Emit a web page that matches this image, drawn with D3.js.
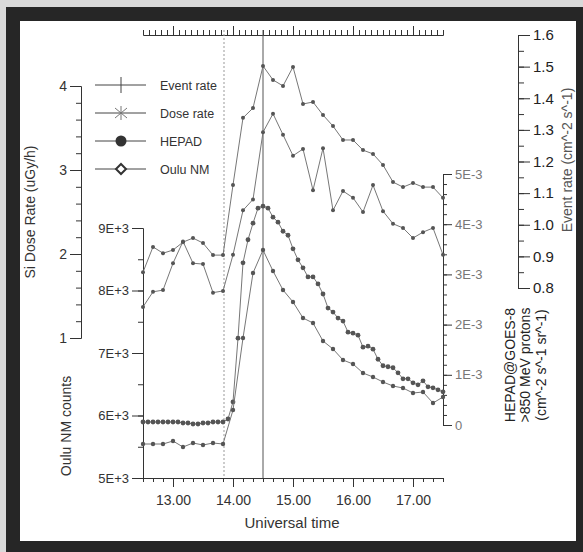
<!DOCTYPE html>
<html>
<head>
<meta charset="utf-8">
<script src="https://cdn.jsdelivr.net/npm/d3@7"></script>
<style>
  body { margin: 0; background: #fff; }
  svg text { font-family: "Liberation Sans", Arial, sans-serif; }
</style>
</head>
<body>
<div id="chart"></div>
<script>
// times (UT) of the 10 minute and 5 minute samples
var tenMinTimes = ["12:30","12:40","12:50","13:00","13:10","13:20","13:30","13:40","13:50","14:00",
    "14:10","14:20","14:30","14:40","14:50","15:00","15:10","15:20","15:30","15:40",
    "15:50","16:00","16:10","16:20","16:30","16:40","16:50","17:00","17:10","17:20","17:30"]
var fiveMinTimes = ["12:30","12:35","12:40","12:45","12:50","12:55","13:00","13:05","13:10","13:15",
    "13:20","13:25","13:30","13:35","13:40","13:45","13:50","13:55","14:00","14:05",
    "14:10","14:15","14:20","14:25","14:30","14:35","14:40","14:45","14:50","14:55",
    "15:00","15:05","15:10","15:15","15:20","15:25","15:30","15:35","15:40","15:45",
    "15:50","15:55","16:00","16:05","16:10","16:15","16:20","16:25","16:30","16:35",
    "16:40","16:45","16:50","16:55","17:00","17:05","17:10","17:15","17:20","17:25","17:30"]

// event rate (cm^-2 s^-1), right outer axis
var eventRate = [0.85,0.93,0.91,0.92,0.945,0.958,0.942,0.904,0.904,1.126,
    1.338,1.369,1.502,1.458,1.439,1.499,1.382,1.388,1.347,1.312,
    1.268,1.268,1.236,1.224,1.189,1.135,1.119,1.132,1.119,1.119,1.085]
// Si dose rate (uGy/h), left outer axis
var doseRate = [1.37,1.55,1.57,1.89,2.15,1.89,1.88,1.54,1.56,1.99,
    2.52,2.65,3.45,3.67,3.42,3.17,3.25,2.76,3.26,2.52,
    2.75,2.67,2.50,2.82,2.51,2.36,2.31,2.19,2.26,2.31,1.99]
// Oulu neutron monitor counts
var ouluNM = [5544,5544,5544,5592,5496,5560,5528,5560,5544,6088,
    7240,8280,8648,8312,8008,7816,7560,7480,7192,7064,
    6888,6824,6680,6616,6536,6472,6440,6360,6376,6200,6296]
// HEPAD >850 MeV protons, in units of 1E-3
var hepadE3 = [0.06,0.06,0.06,0.06,0.06,0.06,0.06,0.06,0.04,0.04,
    0.02,0.02,0.04,0.04,0.06,0.06,0.06,0.12,0.46,1.73,
    3.23,3.69,4.02,4.32,4.36,4.32,4.14,4.04,3.86,3.78,
    3.51,3.29,3.13,2.95,2.95,2.81,2.61,2.33,2.25,2.13,
    2.07,1.85,1.83,1.79,1.55,1.57,1.51,1.31,1.18,1.16,
    1.14,1.04,0.92,0.92,0.84,0.80,0.88,0.76,0.74,0.70,0.66]

var hourTicks = [13, 14, 15, 16, 17]
var hourLabels = ["13.00", "14.00", "15.00", "16.00", "17.00"]
var doseTicks = [1, 2, 3, 4]
var ouluTicks = [5000, 6000, 7000, 8000, 9000]
var ouluLabels = ["5E+3", "6E+3", "7E+3", "8E+3", "9E+3"]
var hepadTicks = [0, 1, 2, 3, 4, 5]
var hepadLabels = ["0", "1E-3", "2E-3", "3E-3", "4E-3", "5E-3"]
var eventTicks = [0.8, 0.9, 1.0, 1.1, 1.2, 1.3, 1.4, 1.5, 1.6]
var markerTimes = ["13:51", "14:30"]   // dotted onset line, solid peak line
var legendNames = ["Event rate", "Dose rate", "HEPAD", "Oulu NM"]

function toHours(s) {
    var p = s.split(":")
    return +p[0] + (+p[1]) / 60
}

var W = 583, H = 552
var svg = d3.select("#chart").append("svg")
    .attr("width", W).attr("height", H)

// scanned photo frame
svg.append("rect").attr("width", W).attr("height", H).attr("fill", "#d9d9d9")
svg.append("rect").attr("x", 6).attr("y", 7).attr("width", W - 6).attr("height", H - 7).attr("fill", "#262626")
svg.append("rect").attr("x", 20).attr("y", 21).attr("width", 556).attr("height", 520).attr("fill", "#fff")

var x = d3.scaleLinear().domain([12.5, 17.5]).range([143, 443])
var yDose = d3.scaleLinear().domain([1, 4]).range([338, 86])
var yOulu = d3.scaleLinear().domain([5000, 9000]).range([478, 228])
var yHepad = d3.scaleLinear().domain([0, 5]).range([425, 174])
var yEvent = d3.scaleLinear().domain([0.8, 1.6]).range([288, 35])

var axisColor = "#333"
function styleAxis(g, labelColor, size) {
    g.select(".domain").attr("stroke", axisColor)
    g.selectAll(".tick line").attr("stroke", axisColor)
    g.selectAll(".tick text").attr("fill", labelColor).style("font-size", size + "px")
}

// bottom time axis
var bx = svg.append("g").attr("transform", "translate(0,478)")
bx.call(d3.axisBottom(x).tickValues(d3.range(12.5, 17.51, 1 / 6)).tickSize(4).tickFormat(""))
bx.append("g").call(d3.axisBottom(x).tickValues(hourTicks).tickSize(9).tickSizeOuter(0)
    .tickFormat(function (d, i) { return hourLabels[i] }))
    .call(function (g) { g.select(".domain").remove() })
    .selectAll(".tick text").attr("dy", "1.1em")
styleAxis(bx, "#333", 14)
svg.append("text").attr("x", 292).attr("y", 528).attr("text-anchor", "middle")
    .style("font-size", "15px").attr("fill", "#333").text("Universal time")

// top ruler
var tx = svg.append("g").attr("transform", "translate(0,35)")
tx.call(d3.axisTop(x).tickValues(d3.range(12.5, 17.51, 0.1)).tickSize(5).tickFormat(""))
tx.append("g").call(d3.axisTop(x).tickValues(hourTicks).tickSize(9).tickFormat(""))
    .call(function (g) { g.select(".domain").remove() })
styleAxis(tx, "#333", 12)

// left: Si dose rate
var ld = svg.append("g").attr("transform", "translate(81,0)")
ld.call(d3.axisLeft(yDose).tickValues(d3.range(1, 4.01, 0.2)).tickSize(5).tickFormat(""))
ld.append("g").call(d3.axisLeft(yDose).tickValues(doseTicks).tickSize(11).tickFormat(d3.format("d")))
    .call(function (g) { g.select(".domain").remove() })
styleAxis(ld, "#333", 14)
svg.append("text").attr("transform", "translate(35,212) rotate(-90)").attr("text-anchor", "middle")
    .style("font-size", "14px").attr("fill", "#333").text("Si Dose Rate (uGy/h)")

// left: Oulu NM counts
var lo = svg.append("g").attr("transform", "translate(143,0)")
lo.call(d3.axisLeft(yOulu).tickValues(d3.range(5000, 9001, 500)).tickSize(5).tickFormat(""))
lo.append("g").call(d3.axisLeft(yOulu).tickValues(ouluTicks).tickSize(11)
    .tickFormat(function (d, i) { return ouluLabels[i] }))
    .call(function (g) { g.select(".domain").remove() })
styleAxis(lo, "#333", 13)
svg.append("text").attr("transform", "translate(71,426) rotate(-90)").attr("text-anchor", "middle")
    .style("font-size", "14px").attr("fill", "#333").text("Oulu NM counts")

// right: HEPAD
var rh = svg.append("g").attr("transform", "translate(443,0)")
rh.call(d3.axisRight(yHepad).tickValues(d3.range(0, 5.01, 0.2)).tickSize(4).tickFormat(""))
rh.append("g").call(d3.axisRight(yHepad).tickValues(hepadTicks).tickSize(9)
    .tickFormat(function (d, i) { return hepadLabels[i] }))
    .call(function (g) { g.select(".domain").remove() })
styleAxis(rh, "#777", 13)
var hepadTitle = ["HEPAD@GOES-8", ">850 MeV protons", "(cm^-2 s^-1 sr^-1)"]
var hepadTitleX = [515, 530, 546]
hepadTitle.forEach(function (t, i) {
    svg.append("text").attr("transform", "translate(" + hepadTitleX[i] + ",365) rotate(-90)")
        .attr("text-anchor", "middle").style("font-size", "14px").attr("fill", "#222").text(t)
})

// right: event rate
var re = svg.append("g").attr("transform", "translate(518,0)")
re.call(d3.axisRight(yEvent).tickValues(d3.range(0.8, 1.601, 0.05)).tickSize(6).tickFormat(""))
re.append("g").call(d3.axisRight(yEvent).tickValues(eventTicks).tickSize(12).tickFormat(d3.format(".1f")))
    .call(function (g) { g.select(".domain").remove() })
styleAxis(re, "#222", 15)
svg.append("text").attr("transform", "translate(572,160) rotate(-90)").attr("text-anchor", "middle")
    .style("font-size", "14px").attr("fill", "#555").text("Event rate (cm^-2 s^-1)")

// onset and peak lines
markerTimes.forEach(function (t, i) {
    svg.append("line").attr("x1", x(toHours(t))).attr("x2", x(toHours(t)))
        .attr("y1", 30).attr("y2", 478)
        .attr("stroke", i == 0 ? "#999" : "#555").attr("stroke-width", 1)
        .attr("stroke-dasharray", i == 0 ? "2,2" : null)
})

// series
var series = [
    { times: tenMinTimes, vals: eventRate, y: yEvent, r: 2 },
    { times: tenMinTimes, vals: doseRate, y: yDose, r: 2 },
    { times: fiveMinTimes, vals: hepadE3, y: yHepad, r: 2.4 },
    { times: tenMinTimes, vals: ouluNM, y: yOulu, r: 2.2 }
]
series.forEach(function (s) {
    var pts = s.vals.map(function (v, i) { return [x(toHours(s.times[i])), s.y(v)] })
    svg.append("path").attr("d", d3.line()(pts))
        .attr("fill", "none").attr("stroke", "#777").attr("stroke-width", 1)
    svg.append("g").selectAll("circle").data(pts).enter().append("circle")
        .attr("cx", function (d) { return d[0] })
        .attr("cy", function (d) { return d[1] })
        .attr("r", s.r).attr("fill", "#555")
})

// legend
var legendY = [85, 113, 141, 169]
legendNames.forEach(function (name, i) {
    var g = svg.append("g").attr("transform", "translate(0," + legendY[i] + ")")
    g.append("line").attr("x1", 95).attr("x2", 146).attr("stroke", "#444")
    if (i == 0) {
        g.append("line").attr("x1", 121).attr("x2", 121).attr("y1", -8).attr("y2", 8).attr("stroke", "#444")
    } else if (i == 1) {
        g.append("path").attr("d", "M121,-7V7M115,-5L127,5M127,-5L115,5")
            .attr("stroke", "#777").attr("fill", "none")
    } else if (i == 2) {
        g.append("circle").attr("cx", 121).attr("r", 5.5).attr("fill", "#333")
    } else {
        g.append("path").attr("d", "M121,-5L126,0L121,5L116,0Z")
            .attr("stroke", "#333").attr("stroke-width", 2).attr("fill", "#fff")
    }
    g.append("text").attr("x", 160).attr("y", 4.5).style("font-size", "12.5px")
        .attr("fill", "#333").text(name)
})
</script>
</body>
</html>
